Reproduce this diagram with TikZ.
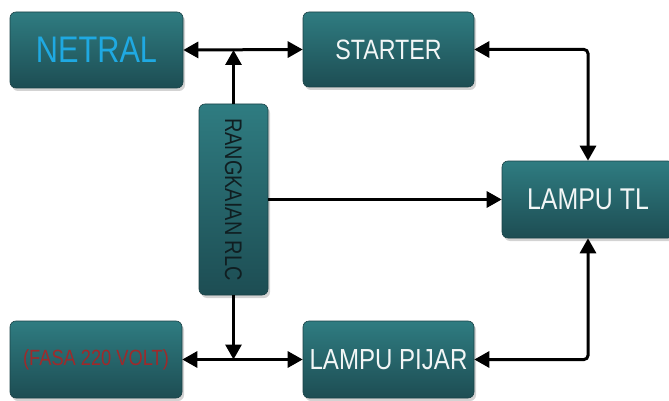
\documentclass[tikz,border=0pt]{standalone}
\usepackage{fontspec}
\setmainfont{Liberation Sans}
\newfontfamily\cond[FakeStretch=0.83]{Liberation Sans}
\usetikzlibrary{arrows.meta,shadows}
\definecolor{tealtop}{HTML}{2F7C81}
\definecolor{tealbot}{HTML}{1D4D53}
\definecolor{tealedge}{HTML}{1A4246}
\definecolor{netcol}{HTML}{1FA9E2}
\definecolor{fasacol}{HTML}{9E2A2B}
\definecolor{rlccol}{HTML}{101E21}
\definecolor{offwhite}{HTML}{F2F6F6}
\tikzset{
  box/.style={rectangle, rounded corners=6pt, top color=tealtop, bottom color=tealbot,
    draw=tealedge, line width=0.6pt, inner sep=0pt, text=offwhite,
    drop shadow={shadow xshift=2pt, shadow yshift=-3pt, opacity=0.35}},
  conn/.style={line width=3pt, draw=black},
  tip/.style={-{Triangle[length=15pt,width=16pt]}},
  bitip/.style={{Triangle[length=15pt,width=16pt]}-{Triangle[length=15pt,width=16pt]}}
}
\begin{document}
\begin{tikzpicture}[x=1pt,y=-1pt]
\useasboundingbox (0,0) rectangle (669,401);
\node[box, minimum width=173pt, minimum height=76pt, text=netcol] (net) at (96.5,50)
  {\cond\fontsize{37}{40}\selectfont NETRAL};
\node[box, minimum width=171pt, minimum height=75pt] (sta) at (388.5,49.5)
  {\cond\fontsize{28}{30}\selectfont STARTER};
\node[box, minimum width=69pt, minimum height=191pt] (rlc) at (233.5,199.5) {};
\node[rotate=-90, text=rlccol] (rlct) at (rlc.center)
  {\cond\fontsize{24}{26}\selectfont RANGKAIAN RLC};
\node[box, minimum width=172pt, minimum height=77pt] (tl) at (588,199.5)
  {\cond\fontsize{30}{32}\selectfont LAMPU TL};
\node[box, minimum width=172pt, minimum height=77pt, text=fasacol] (fasa) at (96,359.5)
  {\cond\fontsize{22}{24}\selectfont (FASA 220 VOLT)};
\node[box, minimum width=171pt, minimum height=77pt] (pij) at (388.5,359.5)
  {\cond\fontsize{29}{31}\selectfont LAMPU PIJAR};
% connectors
\draw[conn, bitip] (net.east) -- (sta.west);
\draw[conn, tip] (rlc.north) -- (rlc.north |- net.east);
\draw[conn, tip] (rlc.south) -- (rlc.south |- fasa.east);
\draw[conn, bitip] (fasa.east) -- (pij.west);
\draw[conn, tip] (rlc.east) -- (tl.west);
\draw[conn, bitip, rounded corners=4pt] (sta.east) -| (tl.north);
\draw[conn, bitip, rounded corners=4pt] (pij.east) -| (tl.south);
\end{tikzpicture}
\end{document}
